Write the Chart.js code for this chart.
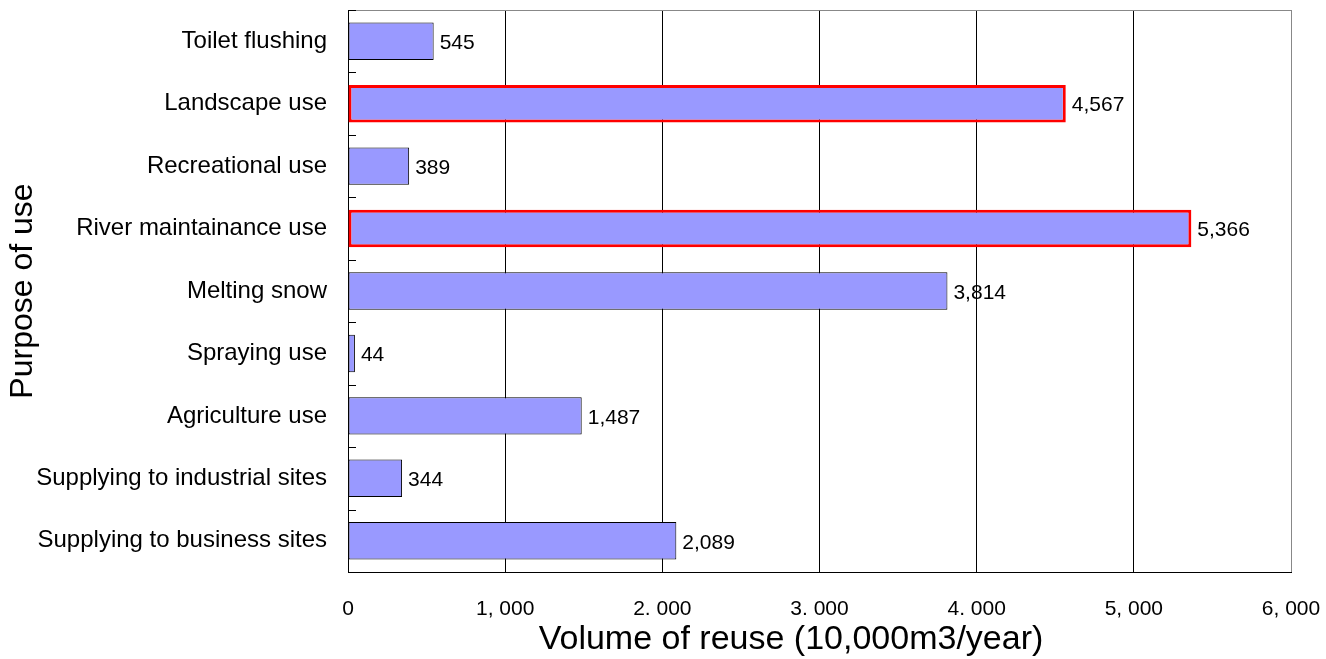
<!DOCTYPE html>
<html>
<head>
<meta charset="utf-8">
<script src="https://cdn.jsdelivr.net/npm/chart.js@4/dist/chart.umd.min.js"></script>
<style>
  html, body { margin: 0; padding: 0; background: #fff; }
  #wrap { width: 1326px; height: 659px; }
</style>
</head>
<body>
<div id="wrap"><canvas id="reuseChart"></canvas></div>
<script>
// categories and values
const purposes = [
    'Toilet flushing',
    'Landscape use',
    'Recreational use',
    'River maintainance use',
    'Melting snow',
    'Spraying use',
    'Agriculture use',
    'Supplying to industrial sites',
    'Supplying to business sites'
];
const reuseVolume = [545, 4567, 389, 5366, 3814, 44, 1487, 344, 2089];
const highlighted = [false, true, false, true, false, false, false, false, false];
const xTickLabels = ['0', '1, 000', '2. 000', '3. 000', '4. 000', '5, 000', '6, 000'];
const xTitle = 'Volume of reuse (10,000m3/year)';

// value labels at the end of each bar
const valueLabels = {
    id: 'valueLabels',
    afterDatasetsDraw(chart) {
        const ctx = chart.ctx;
        const meta = chart.getDatasetMeta(0);
        ctx.save();
        ctx.fillStyle = '#000';
        ctx.font = '21px "Liberation Sans"';
        ctx.textBaseline = 'middle';
        meta.data.forEach((bar, i) => {
            ctx.fillText(reuseVolume[i].toLocaleString('en-US'), bar.x + 6, bar.y + 2);
        });
        ctx.restore();
    }
};

// x axis title sits a bit left of the plot centre in the original
const xTitlePlugin = {
    id: 'xTitle',
    afterDraw(chart) {
        const ctx = chart.ctx;
        ctx.save();
        ctx.fillStyle = '#000';
        ctx.font = '34px "Liberation Sans"';
        ctx.textAlign = 'center';
        ctx.textBaseline = 'middle';
        ctx.fillText(xTitle, 791, 640);
        ctx.restore();
    }
};

// gray frame on top/right and small inward ticks on the category axis
const frame = {
    id: 'frame',
    beforeDatasetsDraw(chart) {
        const { ctx, chartArea } = chart;
        ctx.save();
        ctx.strokeStyle = '#888';
        ctx.lineWidth = 1;
        ctx.beginPath();
        ctx.moveTo(chartArea.left, chartArea.top + 0.5);
        ctx.lineTo(chartArea.right + 0.5, chartArea.top + 0.5);
        ctx.lineTo(chartArea.right + 0.5, chartArea.bottom);
        ctx.stroke();
        ctx.strokeStyle = '#000';
        ctx.beginPath();
        const step = (chartArea.bottom - chartArea.top) / purposes.length;
        for (let i = 0; i <= purposes.length; i++) {
            const ty = Math.round(chartArea.top + i * step) + 0.5;
            ctx.moveTo(chartArea.left, ty);
            ctx.lineTo(chartArea.left + 8, ty);
        }
        ctx.stroke();
        ctx.restore();
    }
};

const ctx = document.getElementById('reuseChart').getContext('2d');
new Chart(ctx, {
    type: 'bar',
    data: {
        labels: purposes,
        datasets: [{
            data: reuseVolume,
            backgroundColor: '#9999FF',
            borderColor: highlighted.map(h => h ? '#FF0000' : '#000000'),
            borderWidth: highlighted.map(h => h ? 3 : 1),
            borderSkipped: false,
            barPercentage: 0.6,
            categoryPercentage: 1.0
        }]
    },
    options: {
        indexAxis: 'y',
        responsive: true,
        maintainAspectRatio: false,
        animation: false,
        layout: { padding: { top: 10, right: 35, left: 0, bottom: 0 } },
        plugins: {
            legend: { display: false },
            tooltip: { enabled: false }
        },
        scales: {
            x: {
                min: 0,
                max: 6000,
                ticks: {
                    stepSize: 1000,
                    color: '#000',
                    font: { size: 21, family: 'Liberation Sans' },
                    padding: 25,
                    maxRotation: 0,
                    callback: (v, i) => xTickLabels[i]
                },
                grid: {
                    color: ctx => ctx.index === 6 ? '#888' : '#000',
                    drawTicks: false
                },
                border: { color: '#000', width: 1 },
                afterFit: scale => {
                    scale.height = 87;
                    scale.paddingLeft = 0;
                    scale.paddingRight = 0;
                }
            },
            y: {
                ticks: {
                    color: '#000',
                    font: { size: 24, family: 'Liberation Sans' },
                    padding: 13
                },
                grid: { display: false },
                border: { color: '#000', width: 1 },
                title: {
                    display: true,
                    text: 'Purpose of use',
                    color: '#000',
                    font: { size: 32, family: 'Liberation Sans' }
                },
                afterFit: scale => {
                    scale.width = 348;
                    scale.paddingTop = 0;
                    scale.paddingBottom = 0;
                }
            }
        }
    },
    plugins: [frame, valueLabels, xTitlePlugin]
});
</script>
</body>
</html>
